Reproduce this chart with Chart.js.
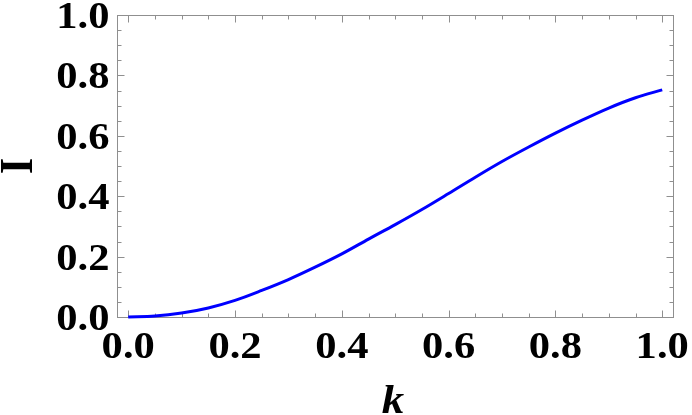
<!DOCTYPE html>
<html>
<head>
<meta charset="utf-8">
<script src="https://cdn.jsdelivr.net/npm/chart.js@4"></script>
<style>
  html, body { margin: 0; padding: 0; background: #fff; }
  #wrap { width: 692px; height: 415px; }
</style>
</head>
<body>
<div id="wrap"><canvas id="c" width="692" height="415"></canvas></div>
<script>
const kValues = [0, 0.05, 0.1, 0.15, 0.2, 0.25, 0.3, 0.35, 0.4, 0.45, 0.5, 0.55, 0.6, 0.65, 0.7, 0.75, 0.8, 0.85, 0.9, 0.95, 1.0];
const iValues = [0, 0.003, 0.013, 0.030, 0.055, 0.088, 0.124, 0.165, 0.209, 0.258, 0.306, 0.356, 0.409, 0.463, 0.515, 0.563, 0.609, 0.652, 0.692, 0.726, 0.752];
const xTickValues = [0, 0.2, 0.4, 0.6, 0.8, 1.0];
const xTickLabels = ['0.0', '0.2', '0.4', '0.6', '0.8', '1.0'];
const yTickValues = [0, 0.2, 0.4, 0.6, 0.8, 1.0];
const yTickLabels = ['0.0', '0.2', '0.4', '0.6', '0.8', '1.0'];
const minorStep = 0.05;
const xTitle = 'k';
const yTitle = 'I';

const FONT = "'Liberation Serif', 'Times New Roman', serif";
const STRETCH = 1.12;

const framePlugin = {
  id: 'mmaFrame',
  beforeDatasetsDraw(chart) {
    const ctx = chart.ctx;
    const a = chart.chartArea;
    const xs = chart.scales.x, ys = chart.scales.y;
    ctx.save();
    ctx.strokeStyle = '#8f8f8f';
    ctx.lineWidth = 1;
    const L = Math.round(a.left) + 0.5, R = Math.round(a.right) + 0.5;
    const T = Math.round(a.top) + 0.5, B = Math.round(a.bottom) + 0.5;
    ctx.strokeRect(L, T, R - L, B - T);
    ctx.beginPath();
    const nMinor = Math.round(1 / minorStep);
    for (let i = 0; i <= nMinor; i++) {
      const v = i * minorStep;
      const major = i % 4 === 0;
      const len = major ? 7 : 4;
      const px = Math.round(xs.getPixelForValue(v)) + 0.5;
      ctx.moveTo(px, B); ctx.lineTo(px, B - len);
      ctx.moveTo(px, T); ctx.lineTo(px, T + len);
      const py = Math.round(ys.getPixelForValue(v)) + 0.5;
      ctx.moveTo(L, py); ctx.lineTo(L + len, py);
      ctx.moveTo(R, py); ctx.lineTo(R - len, py);
    }
    ctx.stroke();
    ctx.restore();
  },
  afterDraw(chart) {
    const ctx = chart.ctx;
    const a = chart.chartArea;
    const xs = chart.scales.x, ys = chart.scales.y;
    ctx.save();
    ctx.fillStyle = '#000';
    ctx.font = 'bold 38px ' + FONT;
    ctx.textAlign = 'center';
    ctx.textBaseline = 'alphabetic';
    xTickValues.forEach((v, i) => {
      const px = xs.getPixelForValue(v);
      ctx.save();
      ctx.translate(px, a.bottom + 41);
      ctx.scale(STRETCH, 1);
      ctx.fillText(xTickLabels[i], 0, 0);
      ctx.restore();
    });
    ctx.textAlign = 'right';
    yTickValues.forEach((v, i) => {
      const py = ys.getPixelForValue(v);
      ctx.save();
      ctx.translate(a.left - 7.5, py + 13);
      ctx.scale(STRETCH, 1);
      ctx.fillText(yTickLabels[i], 0, 0);
      ctx.restore();
    });
    ctx.font = 'italic bold 40px ' + FONT;
    ctx.textAlign = 'center';
    ctx.save();
    ctx.translate((a.left + a.right) / 2 - 2, 413);
    ctx.scale(STRETCH, 1);
    ctx.fillText(xTitle, 0, 0);
    ctx.restore();
    ctx.font = 'bold 42px ' + FONT;
    ctx.save();
    ctx.translate(16, (a.top + a.bottom) / 2);
    ctx.scale(STRETCH, 1);
    ctx.rotate(-Math.PI / 2);
    ctx.textAlign = 'center';
    ctx.fillText(yTitle, 0, 14);
    ctx.restore();
    ctx.restore();
  }
};

const points = kValues.map((k, i) => ({ x: k, y: iValues[i] }));

function build() {
  new Chart(document.getElementById('c'), {
    type: 'line',
    data: {
      datasets: [{
        data: points,
        borderColor: '#0000ff',
        borderWidth: 3,
        pointRadius: 0,
        fill: false,
        cubicInterpolationMode: 'monotone',
        clip: false
      }]
    },
    options: {
      responsive: false,
      animation: false,
      devicePixelRatio: 1,
      layout: { padding: { left: 117, top: 15, right: 19, bottom: 98 } },
      plugins: { legend: { display: false }, tooltip: { enabled: false } },
      scales: {
        x: { type: 'linear', min: -0.021, max: 1.0202, display: false },
        y: { type: 'linear', min: 0, max: 1.0, display: false }
      }
    },
    plugins: [framePlugin]
  });
}

Promise.all([
  document.fonts.load("bold 38px 'Liberation Serif'"),
  document.fonts.load("italic bold 40px 'Liberation Serif'")
]).then(build, build);
</script>
</body>
</html>
